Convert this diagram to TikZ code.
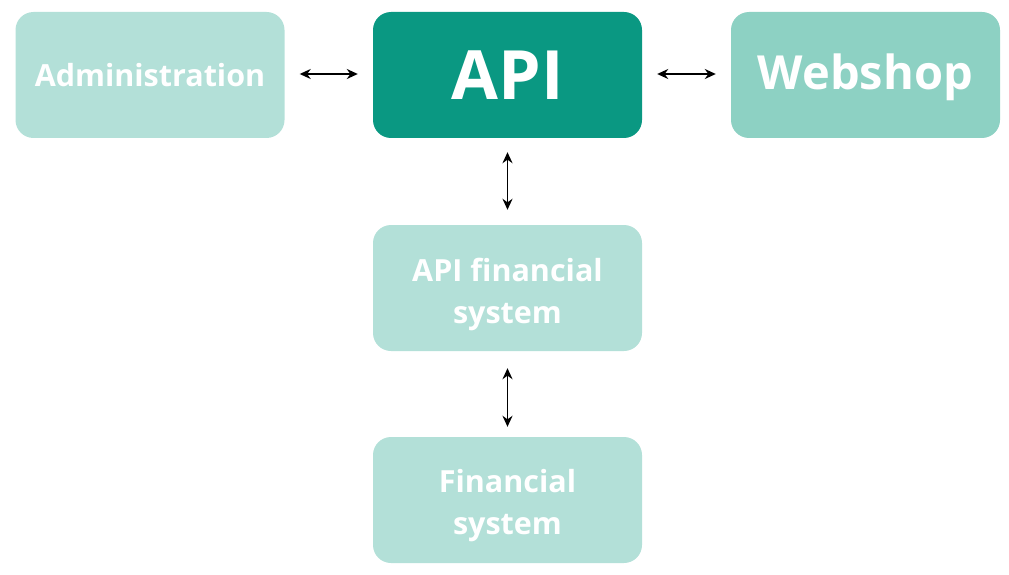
\documentclass[tikz,border=0pt]{standalone}
\usepackage{fontspec}
\setmainfont{Open Sans}[BoldFont={* Bold}]
\usetikzlibrary{arrows.meta}
\definecolor{light}{HTML}{B3E0D8}
\definecolor{dark}{HTML}{0A9882}
\definecolor{mid}{HTML}{8DD1C3}
\begin{document}
\begin{tikzpicture}[x=1pt,y=-1pt,
  box/.style={rounded corners=18pt, minimum width=269pt, minimum height=126pt, inner sep=0pt, text=white, font=\bfseries, align=center},
  txt/.style={text=white, align=center, font=\bfseries\fontsize{30.5}{42}\selectfont, yshift=-6pt},
  conn/.style={{Stealth[length=11pt,width=10pt]}-{Stealth[length=11pt,width=10pt]}, line width=1.9pt, black}]
\useasboundingbox (0,0) rectangle (1009,575);
\node[box, fill=light, font=\bfseries\fontsize{30.5}{36}\selectfont] (adm) at (150,75) {Administration};
\node[box, fill=dark, font=\bfseries\fontsize{68}{80}\selectfont] (api) at (507.5,75) {API};
\node[box, fill=mid, label={[text=white, font=\bfseries\fontsize{47}{56}\selectfont, yshift=-2pt]center:Webshop}] (web) at (865.5,75) {};
\node[box, fill=light, label={[txt]center:API financial\\system}] (apifs) at (507.5,288) {};
\node[box, fill=light, label={[txt]center:Financial\\system}] (fs) at (507.5,500) {};
\path (adm.east) ++(0,-1) coordinate (a1);
\draw[conn] ([xshift=15pt]a1) -- ([xshift=-15pt]api.west |- a1);
\draw[conn] ([xshift=15pt]api.east |- a1) -- ([xshift=-15pt]web.west |- a1);
\draw[conn] ([yshift=-14pt]api.south) -- ([yshift=15pt]apifs.north);
\draw[conn] ([yshift=-17pt]apifs.south) -- ([yshift=10pt]fs.north);
\end{tikzpicture}
\end{document}
